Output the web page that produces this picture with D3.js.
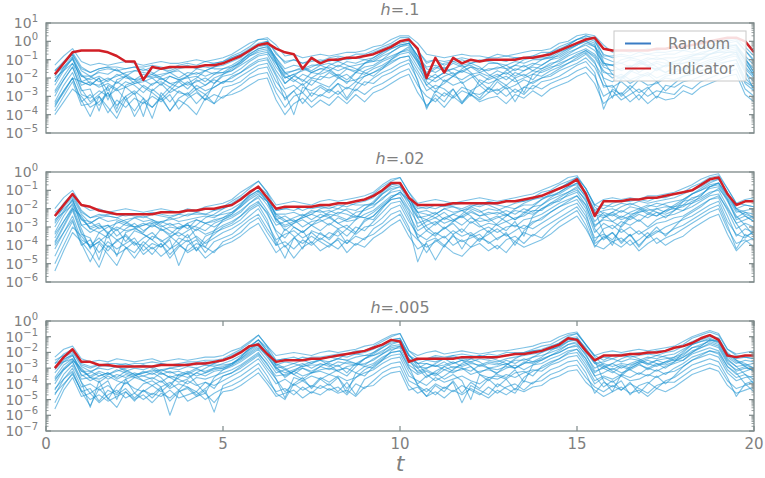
<!DOCTYPE html>
<html>
<head>
<meta charset="utf-8">
<script src="https://cdn.jsdelivr.net/npm/d3@7"></script>
<style>
body { margin: 0; background: #fff; }
text { font-family: "DejaVu Sans", sans-serif; fill: #808080; }
</style>
</head>
<body>
<script>
// All series values are log10 exponents in tenths of a decade (-23 means 10^-2.3)
const times = [0.25,0.5,0.75,1,1.25,1.5,1.75,2,2.25,2.5,2.75,3,3.25,3.5,3.75,4,4.25,4.5,4.75,5,
    5.25,5.5,5.75,6,6.25,6.5,6.75,7,7.25,7.5,7.75,8,8.25,8.5,8.75,9,9.25,9.5,9.75,10,
    10.25,10.5,10.75,11,11.25,11.5,11.75,12,12.25,12.5,12.75,13,13.25,13.5,13.75,14,14.25,14.5,14.75,15,
    15.25,15.5,15.75,16,16.25,16.5,16.75,17,17.25,17.5,17.75,18,18.25,18.5,18.75,19,19.25,19.5,19.75,20];

const titles = [".1", ".02", ".005"];
const yExpMin = [-5, -6, -7];
const yExpMax = [1, 0, 0];
const xTicks = [0, 5, 10, 15, 20];
const legendLabels = ["Random", "Indicator"];

const indicator1 = [-18,-12,-6,-5,-5,-5,-6,-8,-11,-11, -21,-14,-15,-14,-14,-14,-14,-13,-13,-12,
    -10,-8,-5,-2,-1,-4,-6,-7,-15,-9, -12,-10,-10,-9,-9,-8,-7,-5,-3,0,
    1,-4,-20,-9,-17,-9,-12,-10,-11,-10, -10,-10,-10,-9,-9,-8,-7,-5,-3,-1,
    1,2,-4,-5,-5,-5,-5,-5,-4,-4, -3,-3,-2,-1,0,1,2,2,0,-6];

const random1 = [
    [-13,-8,-4,-11,-13,-12,-13,-12,-11,-12, -13,-12,-11,-12,-12,-11,-10,-11,-10,-9, -7,-4,-1,1,2,-2,-8,-7,-9,-8, -7,-8,-7,-6,-6,-5,-3,-2,1,3,
     3,-1,-7,-8,-9,-8,-7,-8,-8,-9, -7,-8,-7,-6,-5,-5,-4,-1,0,3, 4,3,-2,-6,-5,-6,-5,-4,-5,-4, -3,-3,-2,-2,0,0,1,2,-3,-8],
    [-16,-11,-6,-14,-17,-15,-14,-16,-15,-14, -16,-14,-15,-16,-14,-13,-15,-13,-12,-11, -9,-7,-4,-1,0,-6,-12,-10,-12,-11, -10,-11,-9,-10,-9,-8,-6,-4,-2,0,
     1,-5,-11,-10,-13,-11,-10,-12,-11,-10, -10,-11,-9,-9,-8,-8,-6,-4,-2,1, 2,0,-7,-9,-8,-9,-8,-7,-8,-7, -7,-5,-6,-4,-3,-2,-1,0,-5,-10],
    [-19,-12,-7,-16,-19,-17,-18,-15,-19,-16, -17,-18,-15,-17,-16,-19,-15,-16,-14,-13, -11,-9,-5,-3,-2,-9,-15,-13,-14,-16, -13,-12,-14,-11,-12,-10,-9,-6,-4,-2,
     -1,-8,-14,-13,-15,-12,-14,-13,-16,-12, -12,-13,-11,-12,-10,-10,-9,-6,-4,-2, 0,-3,-9,-11,-12,-10,-11,-9,-10,-9, -9,-8,-7,-7,-5,-4,-3,-2,-8,-13],
    [-22,-14,-8,-19,-21,-19,-22,-18,-20,-21, -18,-20,-19,-17,-20,-17,-18,-16,-18,-15, -13,-10,-7,-4,-3,-11,-17,-16,-15,-17, -15,-14,-16,-14,-13,-12,-11,-8,-6,-3,
     -2,-10,-17,-14,-16,-15,-17,-14,-15,-16, -14,-15,-13,-14,-12,-13,-10,-9,-6,-4, -2,-5,-12,-13,-12,-14,-12,-13,-11,-12, -11,-10,-9,-9,-7,-6,-5,-4,-10,-15],
    [-24,-16,-9,-22,-24,-20,-32,-21,-19,-23, -22,-20,-24,-19,-21,-20,-19,-22,-18,-17, -16,-12,-8,-6,-5,-14,-20,-18,-22,-17, -18,-16,-19,-15,-17,-14,-13,-10,-8,-6,
     -4,-12,-18,-20,-17,-19,-16,-18,-17,-19, -16,-18,-15,-16,-14,-15,-12,-11,-8,-6, -4,-7,-14,-16,-15,-13,-17,-14,-15,-13, -14,-12,-11,-10,-9,-8,-6,-5,-12,-18],
    [-27,-19,-12,-24,-22,-25,-23,-26,-22,-24, -28,-23,-22,-25,-21,-24,-22,-20,-23,-19, -18,-15,-11,-8,-7,-16,-23,-19,-21,-24, -19,-20,-18,-21,-17,-18,-15,-13,-10,-7,
     -6,-14,-21,-18,-22,-19,-21,-18,-24,-20, -18,-21,-17,-19,-16,-17,-15,-12,-10,-8, -5,-9,-17,-18,-20,-16,-18,-19,-15,-17, -15,-16,-13,-12,-10,-9,-8,-7,-15,-20],
    [-30,-21,-14,-27,-26,-38,-24,-27,-25,-29, -24,-27,-23,-28,-25,-22,-26,-24,-21,-23, -19,-17,-13,-10,-9,-18,-26,-24,-28,-21, -23,-25,-20,-22,-21,-19,-17,-15,-12,-9,
     -8,-16,-24,-28,-21,-24,-22,-30,-21,-23, -21,-19,-22,-20,-18,-19,-16,-14,-12,-10, -7,-12,-20,-22,-19,-23,-20,-18,-22,-19, -18,-17,-16,-14,-12,-11,-9,-8,-17,-22],
    [-33,-24,-17,-29,-31,-27,-30,-26,-32,-28, -41,-26,-30,-25,-28,-29,-24,-27,-25,-22, -22,-19,-16,-13,-12,-22,-28,-40,-25,-27, -24,-27,-23,-26,-22,-24,-20,-17,-15,-12,
     -10,-18,-27,-24,-26,-30,-25,-27,-24,-28, -22,-26,-24,-21,-23,-20,-19,-16,-14,-12, -9,-14,-24,-25,-22,-26,-21,-24,-23,-20, -21,-19,-18,-16,-15,-13,-11,-10,-20,-25],
    [-36,-27,-20,-33,-29,-35,-28,-39,-30,-27, -31,-42,-28,-33,-27,-30,-26,-29,-34,-25, -24,-22,-18,-15,-14,-25,-31,-27,-34,-28, -30,-26,-29,-25,-27,-22,-23,-19,-17,-14,
     -12,-21,-37,-27,-30,-26,-33,-28,-29,-26, -27,-24,-28,-25,-26,-22,-21,-19,-16,-13, -11,-17,-37,-26,-29,-24,-28,-25,-31,-24, -25,-22,-21,-19,-17,-15,-14,-12,-23,-27],
    [-38,-30,-22,-35,-34,-30,-39,-32,-36,-31, -34,-30,-33,-29,-37,-31,-28,-32,-29,-31, -27,-24,-20,-18,-17,-28,-36,-30,-28,-33, -29,-31,-27,-32,-26,-29,-25,-23,-20,-17,
     -15,-24,-30,-33,-28,-31,-27,-29,-32,-28, -26,-30,-26,-29,-24,-26,-23,-21,-19,-16, -14,-19,-30,-27,-32,-29,-26,-30,-27,-28, -29,-24,-26,-22,-20,-18,-17,-15,-26,-30],
    [-40,-33,-26,-30,-36,-33,-28,-35,-30,-41, -33,-36,-31,-38,-32,-35,-40,-31,-34,-30, -29,-27,-24,-21,-20,-32,-40,-34,-31,-36, -32,-35,-30,-34,-29,-33,-28,-26,-23,-20,
     -18,-28,-35,-31,-36,-30,-34,-29,-33,-31, -30,-34,-29,-31,-27,-30,-26,-24,-22,-19, -17,-23,-34,-30,-28,-33,-29,-34,-30,-32, -31,-27,-29,-25,-23,-21,-19,-18,-29,-33],
    [-35,-28,-20,-22,-24,-20,-27,-22,-25,-23, -21,-24,-20,-23,-22,-26,-21,-24,-20,-18, -16,-13,-10,-7,-6,-12,-19,-22,-18,-20, -21,-17,-20,-18,-22,-16,-14,-11,-9,-6,
     -5,-11,-20,-22,-19,-17,-23,-20,-18,-21, -19,-17,-20,-18,-21,-16,-14,-13,-10,-7, -5,-8,-16,-20,-18,-21,-19,-17,-20,-18, -17,-15,-16,-13,-11,-10,-8,-6,-14,-19],
    [-18,-14,-10,-18,-23,-24,-21,-19,-17,-16, -15,-17,-20,-23,-25,-23,-20,-16,-14,-12, -9,-7,-5,-2,-2,-9,-17,-21,-24,-20, -17,-13,-11,-9,-9,-10,-11,-10,-6,-3,
     -1,-8,-22,-26,-23,-19,-15,-12,-10,-11, -12,-15,-19,-16,-13,-10,-8,-5,-2,1, 3,1,-11,-18,-21,-17,-13,-11,-14,-17, -14,-10,-8,-6,-5,-3,-2,-2,-11,-19],
    [-28,-21,-14,-26,-33,-29,-25,-37,-24,-22, -20,-19,-18,-17,-15,-14,-14,-14,-15,-15, -14,-12,-8,-5,-4,-12,-20,-18,-16,-14, -12,-10,-11,-13,-15,-17,-19,-15,-10,-6,
     -3,-11,-24,-20,-17,-15,-13,-12,-14,-18, -21,-24,-20,-28,-18,-15,-13,-10,-7,-4, -1,-3,-13,-13,-10,-9,-10,-13,-16,-13, -11,-9,-8,-7,-7,-6,-6,-6,-16,-27],
    [-22,-15,-9,-22,-20,-16,-15,-16,-18,-21, -25,-28,-32,-27,-22,-19,-27,-32,-23,-18, -15,-11,-6,-2,0,-11,-23,-19,-15,-13, -13,-15,-19,-23,-17,-12,-9,-6,-3,-1,
     0,-10,-18,-15,-12,-11,-13,-17,-22,-26, -20,-16,-13,-10,-9,-9,-9,-8,-5,-2, 1,-1,-21,-31,-20,-16,-12,-10,-9,-10, -13,-15,-13,-10,-7,-5,-3,-2,-9,-17],
    [-16,-12,-7,-15,-17,-15,-14,-14,-15,-14, -14,-13,-14,-15,-13,-12,-13,-11,-12,-11, -8,-6,-3,1,1,-7,-11,-10,-12,-10, -11,-9,-8,-9,-7,-7,-5,-3,-1,2,
     2,-5,-12,-10,-11,-10,-9,-10,-11,-9, -9,-8,-9,-9,-8,-6,-6,-3,-1,1, 3,2,-8,-8,-7,-8,-6,-7,-6,-6, -5,-5,-4,-3,-2,-1,0,1,-5,-11],
    [-34,-27,-20,-32,-41,-30,-36,-42,-32,-38, -31,-36,-30,-38,-31,-28,-34,-29,-25,-22, -20,-17,-14,-11,-10,-19,-32,-27,-23,-30, -25,-28,-23,-31,-24,-19,-17,-14,-11,-9,
     -8,-22,-36,-29,-33,-26,-34,-27,-31,-25, -29,-25,-33,-25,-22,-20,-18,-15,-12,-9, -6,-11,-25,-24,-30,-26,-32,-26,-22,-27, -23,-19,-18,-16,-14,-12,-11,-10,-22,-25],
    [-20,-16,-12,-19,-19,-22,-20,-23,-19,-21, -20,-18,-21,-19,-21,-19,-17,-19,-17,-17, -14,-11,-7,-4,-3,-10,-18,-16,-14,-17, -15,-16,-13,-15,-16,-12,-10,-7,-4,-2,
     -1,-8,-15,-17,-14,-18,-16,-14,-17,-15, -15,-13,-16,-13,-16,-13,-10,-7,-4,-2, 0,-2,-12,-13,-16,-14,-11,-14,-12,-14, -12,-12,-10,-10,-7,-5,-4,-3,-10,-17]
];

const indicator2 = [-24,-18,-12,-18,-19,-21,-22,-23,-23,-23, -23,-23,-22,-22,-22,-21,-21,-20,-20,-19,
    -18,-15,-11,-8,-14,-20,-19,-19,-19,-19, -18,-18,-17,-17,-16,-15,-13,-10,-6,-6,
    -14,-18,-18,-18,-18,-17,-17,-17,-17,-17, -17,-16,-16,-15,-14,-13,-11,-9,-7,-4,
    -12,-24,-16,-16,-16,-15,-15,-14,-14,-13, -12,-11,-10,-7,-4,-3,-12,-18,-16,-16];

const random2 = [
    [-20,-14,-10,-18,-21,-20,-22,-21,-20,-21, -22,-21,-20,-21,-22,-20,-21,-19,-18,-17, -15,-11,-8,-5,-11,-18,-17,-16,-17,-18, -16,-15,-16,-15,-14,-13,-11,-7,-4,-3,
     -11,-17,-16,-15,-16,-17,-16,-15,-14,-15, -16,-15,-14,-13,-12,-10,-8,-6,-3,-2, -9,-18,-15,-14,-15,-14,-15,-13,-13,-12, -11,-9,-7,-4,-2,-1,-9,-17,-15,-14],
    [-24,-17,-12,-21,-25,-23,-24,-25,-23,-24, -25,-23,-24,-25,-23,-24,-22,-23,-21,-20, -18,-15,-11,-8,-14,-21,-20,-21,-19,-20, -19,-20,-18,-19,-17,-16,-14,-10,-7,-6,
     -14,-20,-19,-20,-18,-19,-20,-18,-19,-17, -18,-19,-17,-16,-15,-13,-11,-9,-6,-5, -12,-21,-18,-19,-17,-18,-16,-17,-16,-15, -14,-12,-10,-8,-5,-4,-12,-20,-18,-19],
    [-27,-19,-14,-23,-28,-25,-27,-26,-28,-25, -27,-26,-28,-25,-27,-26,-25,-24,-25,-22, -20,-17,-13,-10,-16,-23,-23,-22,-24,-21, -22,-21,-23,-20,-21,-18,-17,-12,-9,-8,
     -16,-22,-21,-23,-20,-22,-21,-20,-22,-20, -21,-19,-20,-18,-18,-15,-13,-11,-8,-7, -14,-23,-21,-20,-22,-19,-20,-18,-19,-17, -16,-15,-12,-10,-7,-6,-14,-22,-21,-20],
    [-30,-22,-15,-26,-30,-28,-34,-27,-29,-30, -28,-30,-27,-29,-28,-31,-26,-28,-27,-25, -23,-19,-15,-12,-18,-26,-24,-27,-25,-23, -25,-23,-24,-26,-22,-21,-19,-14,-11,-10,
     -18,-25,-24,-22,-26,-23,-25,-22,-24,-23, -22,-24,-21,-22,-19,-18,-15,-13,-11,-9, -16,-27,-22,-24,-21,-23,-22,-21,-20,-19, -19,-16,-15,-12,-9,-8,-16,-25,-22,-23],
    [-33,-24,-17,-29,-33,-30,-29,-35,-31,-28, -32,-29,-31,-34,-30,-29,-32,-28,-30,-27, -25,-22,-17,-14,-21,-29,-27,-26,-30,-27, -26,-29,-25,-27,-26,-23,-21,-17,-13,-12,
     -20,-28,-26,-29,-25,-27,-24,-28,-25,-27, -25,-23,-26,-22,-23,-20,-18,-15,-13,-11, -18,-30,-25,-23,-26,-24,-27,-23,-24,-21, -20,-19,-16,-14,-11,-10,-19,-28,-26,-24],
    [-36,-27,-19,-31,-42,-33,-36,-31,-38,-32, -34,-37,-31,-35,-33,-36,-31,-34,-32,-29, -27,-24,-19,-16,-23,-32,-36,-30,-33,-29, -32,-28,-31,-29,-33,-26,-24,-19,-15,-14,
     -23,-32,-29,-27,-31,-28,-33,-27,-30,-28, -29,-27,-30,-26,-25,-23,-20,-17,-15,-13, -20,-33,-28,-31,-27,-29,-26,-30,-26,-24, -23,-21,-19,-16,-13,-12,-21,-31,-28,-30],
    [-39,-30,-21,-34,-36,-48,-33,-37,-35,-40, -36,-33,-38,-35,-39,-34,-43,-35,-33,-31, -29,-26,-21,-18,-26,-40,-31,-35,-42,-32, -34,-36,-31,-35,-30,-32,-27,-22,-17,-16,
     -25,-36,-32,-35,-30,-34,-31,-35,-32,-30, -33,-30,-29,-31,-27,-26,-22,-19,-17,-15, -22,-38,-31,-29,-33,-30,-34,-31,-28,-27, -25,-24,-21,-18,-15,-14,-24,-35,-31,-33],
    [-42,-33,-24,-37,-40,-36,-41,-38,-34,-39, -40,-35,-37,-42,-36,-38,-35,-39,-36,-33, -31,-28,-24,-20,-28,-37,-34,-32,-36,-33, -37,-33,-35,-31,-34,-30,-29,-25,-20,-18,
     -27,-34,-37,-33,-36,-32,-35,-33,-37,-34, -31,-35,-32,-29,-31,-28,-25,-22,-19,-17, -24,-36,-34,-37,-31,-35,-32,-36,-33,-30, -28,-26,-24,-21,-18,-16,-27,-34,-36,-32],
    [-46,-36,-27,-40,-37,-44,-38,-42,-39,-36, -43,-39,-41,-37,-51,-40,-37,-44,-38,-36, -34,-30,-26,-23,-31,-38,-47,-36,-39,-35, -38,-41,-36,-39,-35,-37,-31,-28,-23,-21,
     -30,-49,-38,-36,-40,-35,-38,-36,-34,-39, -36,-34,-38,-33,-35,-31,-28,-25,-22,-19, -26,-39,-36,-33,-38,-34,-40,-35,-32,-34, -31,-29,-26,-23,-20,-18,-29,-42,-34,-37],
    [-50,-40,-30,-35,-41,-38,-43,-37,-41,-44, -38,-42,-39,-45,-40,-43,-39,-41,-44,-38, -36,-33,-28,-25,-33,-40,-38,-42,-37,-40, -36,-39,-42,-37,-40,-36,-34,-30,-26,-23,
     -32,-37,-41,-38,-35,-40,-37,-41,-36,-38, -42,-37,-35,-39,-34,-36,-31,-27,-24,-21, -29,-41,-35,-38,-36,-40,-37,-33,-39,-36, -34,-31,-28,-25,-22,-20,-31,-39,-37,-41],
    [-54,-43,-33,-38,-44,-52,-40,-45,-42,-38, -45,-41,-46,-42,-39,-44,-41,-47,-43,-40, -38,-35,-31,-28,-36,-44,-40,-47,-41,-38, -43,-40,-37,-44,-39,-41,-36,-33,-29,-26,
     -35,-42,-39,-48,-40,-44,-46,-41,-39,-43, -40,-44,-38,-41,-39,-37,-34,-30,-27,-24, -31,-40,-42,-38,-41,-37,-43,-39,-36,-40, -37,-35,-31,-28,-25,-23,-34,-43,-38,-36],
    [-38,-29,-20,-24,-31,-29,-33,-30,-32,-31, -33,-28,-32,-30,-31,-29,-30,-32,-28,-26, -24,-21,-17,-13,-16,-27,-30,-28,-26,-29, -27,-25,-28,-26,-24,-25,-22,-18,-14,-11,
     -15,-30,-27,-25,-28,-26,-29,-25,-27,-26, -24,-27,-25,-24,-21,-21,-17,-16,-12,-10, -15,-29,-26,-27,-24,-26,-23,-25,-22,-23, -21,-18,-17,-15,-12,-9,-15,-26,-24,-27],
    [-28,-21,-15,-29,-28,-25,-24,-25,-27,-30, -34,-37,-41,-36,-32,-28,-36,-41,-32,-26, -23,-18,-12,-8,-12,-25,-32,-28,-24,-22, -21,-24,-28,-31,-26,-20,-16,-11,-7,-6,
     -13,-24,-26,-23,-20,-19,-21,-24,-29,-33, -28,-24,-20,-17,-15,-14,-13,-12,-9,-6, -11,-21,-33,-40,-29,-24,-21,-19,-17,-18, -20,-21,-17,-13,-8,-6,-12,-20,-22,-25],
    [-40,-33,-26,-39,-49,-39,-45,-51,-41,-47, -40,-45,-39,-47,-41,-37,-43,-38,-34,-30, -28,-24,-20,-17,-22,-33,-41,-36,-32,-39, -33,-37,-32,-39,-33,-27,-24,-19,-15,-14,
     -21,-36,-44,-37,-41,-34,-42,-34,-38,-32, -37,-33,-40,-32,-28,-25,-22,-19,-16,-13, -18,-31,-37,-33,-39,-34,-41,-35,-30,-35, -30,-25,-22,-19,-15,-13,-20,-28,-35,-33],
    [-24,-20,-16,-25,-31,-33,-30,-28,-26,-25, -24,-26,-29,-32,-35,-32,-29,-25,-23,-20, -17,-14,-11,-8,-14,-23,-26,-30,-33,-29, -25,-22,-20,-17,-18,-18,-18,-15,-10,-8,
     -14,-22,-30,-34,-31,-27,-23,-19,-17,-18, -20,-23,-26,-23,-19,-15,-12,-9,-6,-3, -9,-19,-23,-27,-30,-25,-22,-20,-22,-25, -21,-16,-12,-9,-6,-4,-11,-20,-24,-27],
    [-26,-22,-18,-26,-27,-31,-29,-32,-28,-30, -29,-27,-30,-28,-31,-28,-26,-28,-26,-25, -22,-18,-13,-10,-15,-24,-27,-25,-23,-26, -23,-25,-22,-23,-25,-20,-17,-12,-8,-7,
     -14,-22,-23,-25,-22,-26,-24,-21,-24,-22, -23,-21,-23,-20,-22,-18,-14,-11,-8,-6, -12,-22,-24,-22,-25,-22,-20,-23,-20,-22, -19,-18,-14,-13,-8,-6,-13,-21,-23,-25],
    [-34,-27,-20,-33,-41,-38,-34,-46,-33,-31, -29,-28,-27,-26,-25,-23,-23,-23,-24,-23, -22,-19,-14,-11,-16,-26,-29,-27,-25,-23, -20,-19,-20,-21,-24,-25,-26,-20,-14,-11,
     -16,-25,-32,-28,-25,-23,-21,-19,-21,-25, -29,-32,-27,-35,-24,-20,-17,-14,-11,-8, -13,-23,-25,-22,-19,-17,-19,-22,-24,-21, -18,-15,-12,-10,-8,-7,-15,-24,-29,-35],
    [-22,-18,-13,-22,-25,-24,-23,-23,-24,-23, -23,-22,-23,-24,-23,-21,-22,-20,-21,-19, -16,-13,-9,-5,-11,-21,-20,-19,-21,-19, -19,-18,-17,-17,-16,-15,-12,-8,-5,-3,
     -11,-19,-20,-18,-19,-18,-17,-17,-18,-16, -17,-16,-16,-16,-14,-11,-10,-7,-5,-3, -9,-18,-20,-17,-16,-16,-15,-16,-14,-14, -12,-11,-8,-6,-3,-2,-9,-17,-18,-19]
];

const indicator3 = [-30,-23,-18,-26,-26,-28,-28,-29,-29,-29, -29,-29,-28,-28,-28,-28,-27,-27,-26,-25,
    -23,-20,-16,-15,-21,-26,-25,-25,-25,-24, -24,-23,-22,-21,-20,-19,-17,-15,-12,-13,
    -26,-24,-24,-24,-24,-24,-23,-23,-23,-23, -23,-22,-21,-21,-20,-19,-17,-15,-11,-12,
    -19,-25,-22,-22,-22,-21,-21,-20,-20,-19, -17,-16,-14,-11,-9,-12,-22,-23,-22,-22];

const random3 = [
    [-23,-18,-16,-24,-26,-25,-26,-24,-25,-26, -25,-24,-26,-25,-24,-25,-24,-23,-23,-22, -19,-17,-13,-9,-16,-22,-21,-20,-21,-22, -20,-19,-20,-19,-18,-16,-15,-12,-9,-8,
     -19,-22,-20,-19,-21,-20,-19,-20,-21,-20, -19,-19,-18,-17,-16,-14,-13,-10,-8,-7, -15,-22,-20,-19,-20,-19,-18,-19,-18,-17, -16,-13,-10,-8,-6,-8,-18,-21,-20,-19],
    [-27,-21,-18,-27,-29,-28,-29,-28,-27,-29, -28,-29,-27,-28,-29,-27,-28,-26,-27,-25, -23,-20,-16,-12,-19,-25,-24,-25,-23,-24, -24,-23,-22,-23,-21,-20,-18,-15,-12,-11,
     -22,-25,-24,-23,-24,-22,-24,-23,-22,-24, -23,-22,-21,-20,-19,-18,-16,-14,-11,-10, -18,-25,-23,-24,-22,-23,-22,-21,-22,-20, -19,-16,-13,-11,-9,-11,-21,-24,-23,-24],
    [-30,-23,-20,-29,-32,-30,-31,-29,-32,-30, -31,-29,-32,-30,-31,-29,-30,-28,-29,-27, -25,-22,-18,-14,-21,-28,-26,-27,-25,-27, -25,-26,-24,-25,-23,-22,-20,-17,-14,-13,
     -24,-27,-25,-26,-24,-27,-25,-26,-24,-25, -26,-24,-23,-22,-21,-20,-18,-16,-13,-12, -20,-27,-26,-24,-26,-24,-25,-23,-24,-22, -21,-18,-15,-13,-11,-13,-23,-27,-25,-26],
    [-33,-26,-22,-32,-35,-32,-34,-31,-33,-35, -32,-34,-31,-33,-32,-34,-31,-32,-30,-29, -27,-24,-20,-16,-23,-30,-29,-27,-29,-28, -28,-27,-29,-26,-27,-24,-22,-19,-16,-15,
     -26,-30,-27,-29,-28,-26,-29,-27,-28,-26, -27,-28,-25,-25,-23,-22,-20,-18,-15,-14, -22,-30,-27,-29,-27,-28,-26,-27,-25,-24, -23,-21,-17,-15,-13,-15,-25,-29,-28,-27],
    [-36,-28,-24,-34,-38,-35,-33,-37,-34,-36, -35,-33,-36,-42,-34,-36,-33,-35,-32,-31, -29,-26,-22,-18,-25,-33,-31,-34,-30,-32, -29,-31,-28,-33,-27,-28,-24,-21,-18,-17,
     -28,-32,-30,-28,-31,-29,-30,-32,-28,-30, -29,-27,-30,-26,-27,-24,-22,-20,-17,-16, -24,-33,-29,-31,-28,-30,-27,-31,-28,-26, -25,-23,-19,-17,-15,-17,-27,-31,-29,-32],
    [-40,-31,-26,-37,-36,-39,-35,-38,-40,-36, -38,-36,-39,-35,-37,-40,-36,-37,-35,-33, -31,-28,-24,-20,-28,-35,-34,-32,-35,-33, -32,-34,-31,-30,-33,-29,-27,-23,-20,-19,
     -30,-34,-32,-35,-31,-33,-30,-34,-32,-31, -33,-30,-28,-31,-28,-27,-24,-22,-19,-18, -26,-35,-33,-30,-33,-31,-34,-30,-32,-29, -27,-25,-21,-19,-17,-19,-29,-34,-32,-30],
    [-44,-34,-28,-39,-55,-38,-50,-41,-37,-46, -40,-38,-42,-39,-44,-38,-41,-39,-43,-35, -33,-30,-26,-22,-30,-37,-49,-36,-38,-35, -37,-34,-36,-46,-33,-35,-29,-25,-22,-21,
     -32,-40,-35,-33,-37,-34,-38,-50,-34,-36, -35,-37,-33,-32,-35,-29,-26,-24,-21,-20, -28,-38,-35,-37,-34,-36,-33,-35,-31,-34, -30,-27,-23,-21,-19,-21,-31,-36,-34,-37],
    [-47,-37,-30,-42,-40,-44,-41,-46,-39,-43, -45,-41,-38,-43,-40,-42,-45,-39,-41,-38, -35,-32,-28,-24,-32,-40,-37,-41,-38,-42, -36,-39,-35,-38,-36,-33,-31,-27,-24,-23,
     -35,-38,-41,-36,-39,-37,-35,-38,-40,-36, -37,-34,-36,-33,-31,-32,-28,-26,-23,-22, -30,-40,-36,-39,-35,-38,-37,-34,-36,-33, -32,-29,-25,-23,-21,-23,-33,-38,-36,-35],
    [-52,-41,-33,-45,-43,-51,-44,-47,-43,-49, -44,-47,-42,-60,-45,-43,-48,-44,-58,-41, -38,-35,-31,-27,-35,-46,-50,-40,-44,-41, -43,-40,-45,-39,-47,-37,-34,-30,-27,-26,
     -38,-41,-45,-40,-43,-39,-52,-41,-44,-47, -40,-43,-46,-38,-40,-35,-31,-29,-26,-25, -33,-46,-39,-42,-38,-47,-41,-39,-43,-38, -36,-32,-28,-26,-24,-26,-36,-48,-40,-45],
    [-56,-44,-36,-48,-46,-52,-47,-44,-49,-46, -50,-46,-48,-44,-49,-47,-45,-50,-46,-43, -41,-38,-34,-30,-38,-45,-43,-47,-42,-46, -41,-44,-42,-47,-40,-43,-38,-33,-30,-29,
     -41,-46,-43,-47,-42,-45,-41,-44,-47,-42, -46,-42,-40,-44,-39,-38,-34,-32,-29,-28, -36,-42,-45,-41,-44,-40,-43,-46,-41,-39, -39,-35,-31,-29,-27,-29,-38,-43,-41,-39],
    [-46,-40,-34,-44,-50,-47,-51,-48,-45,-50, -47,-52,-46,-49,-44,-51,-48,-46,-52,-45, -44,-41,-37,-33,-40,-48,-46,-44,-49,-45, -47,-43,-46,-44,-48,-42,-41,-36,-33,-32,
     -44,-42,-48,-45,-49,-44,-47,-43,-46,-49, -44,-47,-43,-45,-42,-41,-37,-35,-32,-31, -39,-44,-48,-45,-42,-46,-44,-48,-43,-45, -42,-38,-34,-32,-30,-32,-41,-46,-44,-42],
    [-38,-30,-25,-30,-36,-33,-37,-34,-36,-33, -35,-37,-33,-36,-34,-32,-35,-33,-31,-30, -28,-25,-21,-17,-22,-31,-35,-32,-30,-33, -31,-30,-32,-29,-28,-27,-25,-21,-17,-16,
     -24,-33,-31,-34,-29,-32,-31,-29,-33,-30, -31,-29,-30,-27,-26,-25,-22,-20,-17,-15, -21,-32,-30,-33,-29,-31,-28,-30,-27,-28, -26,-23,-20,-17,-14,-16,-26,-32,-30,-31],
    [-29,-26,-24,-32,-32,-35,-33,-36,-32,-34, -33,-31,-34,-32,-35,-33,-30,-33,-30,-30, -27,-23,-18,-14,-20,-28,-31,-29,-27,-30, -27,-29,-26,-27,-28,-24,-21,-17,-13,-12,
     -22,-27,-27,-29,-26,-30,-28,-26,-29,-27, -28,-25,-27,-24,-26,-23,-19,-16,-12,-11, -18,-26,-29,-27,-30,-27,-25,-28,-25,-27, -24,-22,-17,-16,-12,-13,-22,-26,-28,-30],
    [-27,-24,-22,-31,-36,-37,-34,-32,-30,-29, -28,-30,-33,-36,-39,-37,-33,-30,-27,-25, -22,-19,-16,-12,-19,-27,-30,-34,-37,-33, -29,-26,-24,-21,-21,-22,-22,-20,-15,-13,
     -22,-27,-34,-38,-35,-31,-27,-24,-22,-23, -25,-27,-30,-27,-23,-20,-17,-14,-10,-8, -15,-23,-28,-32,-35,-30,-27,-25,-27,-30, -26,-20,-15,-12,-10,-11,-20,-25,-29,-32],
    [-25,-22,-19,-28,-30,-28,-27,-27,-28,-27, -27,-26,-27,-28,-27,-26,-26,-25,-25,-24, -21,-18,-14,-9,-16,-25,-24,-23,-25,-23, -23,-22,-21,-21,-19,-19,-16,-13,-10,-8,
     -19,-24,-24,-22,-23,-22,-21,-22,-23,-21, -22,-20,-20,-20,-18,-16,-15,-12,-9,-8, -15,-22,-25,-22,-21,-21,-20,-21,-19,-19, -17,-15,-11,-9,-7,-9,-18,-22,-23,-24],
    [-37,-31,-26,-39,-46,-42,-38,-50,-37,-35, -33,-32,-31,-30,-29,-28,-27,-28,-28,-28, -27,-24,-19,-15,-21,-30,-33,-31,-29,-27, -24,-23,-24,-25,-27,-29,-30,-25,-19,-16,
     -24,-30,-36,-32,-29,-27,-25,-24,-26,-30, -34,-36,-31,-39,-28,-25,-22,-19,-15,-13, -19,-27,-30,-27,-24,-22,-24,-27,-29,-26, -23,-19,-15,-13,-12,-14,-24,-29,-34,-40],
    [-43,-37,-32,-45,-54,-43,-49,-55,-45,-51, -44,-49,-43,-51,-45,-42,-47,-43,-38,-35, -33,-29,-25,-21,-27,-37,-45,-40,-36,-43, -37,-41,-36,-43,-36,-31,-28,-24,-20,-19,
     -29,-41,-48,-41,-45,-38,-46,-39,-43,-37, -42,-37,-44,-36,-32,-30,-27,-24,-20,-18, -24,-35,-42,-38,-44,-39,-46,-40,-35,-40, -35,-29,-25,-22,-19,-20,-29,-33,-40,-38],
    [-31,-25,-21,-35,-33,-29,-28,-29,-31,-34, -38,-41,-45,-40,-36,-33,-40,-46,-36,-31, -28,-23,-17,-12,-17,-29,-36,-32,-28,-26, -25,-28,-32,-35,-29,-24,-20,-16,-12,-11,
     -21,-29,-30,-27,-24,-23,-25,-29,-34,-38, -33,-28,-24,-21,-19,-19,-18,-17,-13,-11, -17,-25,-38,-45,-34,-29,-26,-24,-22,-23, -25,-25,-20,-16,-12,-13,-21,-25,-27,-30]
];

const width = 765;
const height = 478;
const plotLeft = 46;
const plotRight = 754;
const plotHeight = 110;
const panelTops = [23, 172, 321];
const randomColor = "#1690d0";
const indicatorColor = "#d11f26";
const axisColor = "#7d8989";

const svg = d3.select("body")
    .append("svg")
    .attr("width", width)
    .attr("height", height);

const x = d3.scaleLinear()
    .domain([0, 20])
    .range([plotLeft, plotRight]);

const panels = [
    { indicator: indicator1, random: random1 },
    { indicator: indicator2, random: random2 },
    { indicator: indicator3, random: random3 },
];

panels.forEach((p, k) => {
    const top = panelTops[k];
    const lo = yExpMin[k];
    const hi = yExpMax[k];

    const y = d3.scaleLog()
        .domain([Math.pow(10, lo), Math.pow(10, hi)])
        .range([top + plotHeight, top]);

    const line = d3.line()
        .x((d, i) => x(times[i]))
        .y((d) => y(Math.pow(10, d / 10)));

    const g = svg.append("g");

    svg.append("clipPath")
        .attr("id", `clip${k}`)
        .append("rect")
        .attr("x", plotLeft)
        .attr("y", top)
        .attr("width", plotRight - plotLeft)
        .attr("height", plotHeight);

    const plot = g.append("g").attr("clip-path", `url(#clip${k})`);

    plot.selectAll(".random")
        .data(p.random)
        .enter()
        .append("path")
        .attr("class", "random")
        .attr("d", line)
        .attr("fill", "none")
        .attr("stroke", randomColor)
        .attr("stroke-width", 1.1)
        .attr("stroke-opacity", 0.55)
        .attr("stroke-linejoin", "round");

    plot.append("path")
        .datum(p.indicator)
        .attr("d", line)
        .attr("fill", "none")
        .attr("stroke", indicatorColor)
        .attr("stroke-width", 2.5)
        .attr("stroke-linejoin", "round");

    g.append("rect")
        .attr("x", plotLeft)
        .attr("y", top)
        .attr("width", plotRight - plotLeft)
        .attr("height", plotHeight)
        .attr("fill", "none")
        .attr("stroke", axisColor)
        .attr("stroke-width", 1.3);

    const majors = d3.range(lo, hi + 1);
    const minors = [];
    for (let e = lo; e < hi; e++) {
        for (let m = 2; m < 10; m++) minors.push(m * Math.pow(10, e));
    }

    [plotLeft, plotRight].forEach((sx, side) => {
        const dir = side === 0 ? 1 : -1;
        g.selectAll(null)
            .data(majors)
            .enter()
            .append("line")
            .attr("x1", sx)
            .attr("x2", sx + dir * 5)
            .attr("y1", (e) => y(Math.pow(10, e)))
            .attr("y2", (e) => y(Math.pow(10, e)))
            .attr("stroke", axisColor)
            .attr("stroke-width", 1.2);
        g.selectAll(null)
            .data(minors)
            .enter()
            .append("line")
            .attr("x1", sx)
            .attr("x2", sx + dir * 2.5)
            .attr("y1", (v) => y(v))
            .attr("y2", (v) => y(v))
            .attr("stroke", axisColor)
            .attr("stroke-width", 0.8);
    });

    const labels = g.selectAll(".ylabel")
        .data(majors)
        .enter()
        .append("text")
        .attr("class", "ylabel")
        .attr("x", 38)
        .attr("y", (e) => y(Math.pow(10, e)) + 5)
        .attr("text-anchor", "end")
        .style("font-size", "14px");
    labels.append("tspan").text("10");
    labels.append("tspan")
        .attr("dy", -6)
        .style("font-size", "10px")
        .text((e) => e < 0 ? "\u2212" + (-e) : e);

    const title = g.append("text")
        .attr("x", (plotLeft + plotRight) / 2)
        .attr("y", top - 8)
        .attr("text-anchor", "middle")
        .style("font-size", "16px");
    title.append("tspan").style("font-style", "italic").text("h");
    title.append("tspan").text("=" + titles[k]);

    if (k === panels.length - 1) {
        g.selectAll(null)
            .data(xTicks)
            .enter()
            .append("text")
            .attr("x", (d) => x(d))
            .attr("y", top + plotHeight + 18)
            .attr("text-anchor", "middle")
            .style("font-size", "15px")
            .text((d) => d);

        [top, top + plotHeight].forEach((sy, side) => {
            const dir = side === 0 ? 1 : -1;
            g.selectAll(null)
                .data(xTicks)
                .enter()
                .append("line")
                .attr("x1", (d) => x(d))
                .attr("x2", (d) => x(d))
                .attr("y1", sy)
                .attr("y2", sy + dir * 5)
                .attr("stroke", axisColor)
                .attr("stroke-width", 1.2);
        });

        svg.append("text")
            .attr("x", (plotLeft + plotRight) / 2)
            .attr("y", top + plotHeight + 40)
            .attr("text-anchor", "middle")
            .style("font-size", "22px")
            .style("font-style", "italic")
            .text("t");
    }
});

// legend in the first panel
const legend = svg.append("g").attr("transform", "translate(614, 31)");
legend.append("rect")
    .attr("width", 132)
    .attr("height", 50)
    .attr("fill", "#fff")
    .attr("fill-opacity", 0.85)
    .attr("stroke", "#c8c8c8");
legendLabels.forEach((label, i) => {
    legend.append("line")
        .attr("x1", 11)
        .attr("x2", 37)
        .attr("y1", 12.5 + i * 25)
        .attr("y2", 12.5 + i * 25)
        .attr("stroke", i === 0 ? "#3a7cc4" : indicatorColor)
        .attr("stroke-width", 2);
    legend.append("text")
        .attr("x", 54)
        .attr("y", 18 + i * 25)
        .style("font-size", "15px")
        .text(label);
});
</script>
</body>
</html>
